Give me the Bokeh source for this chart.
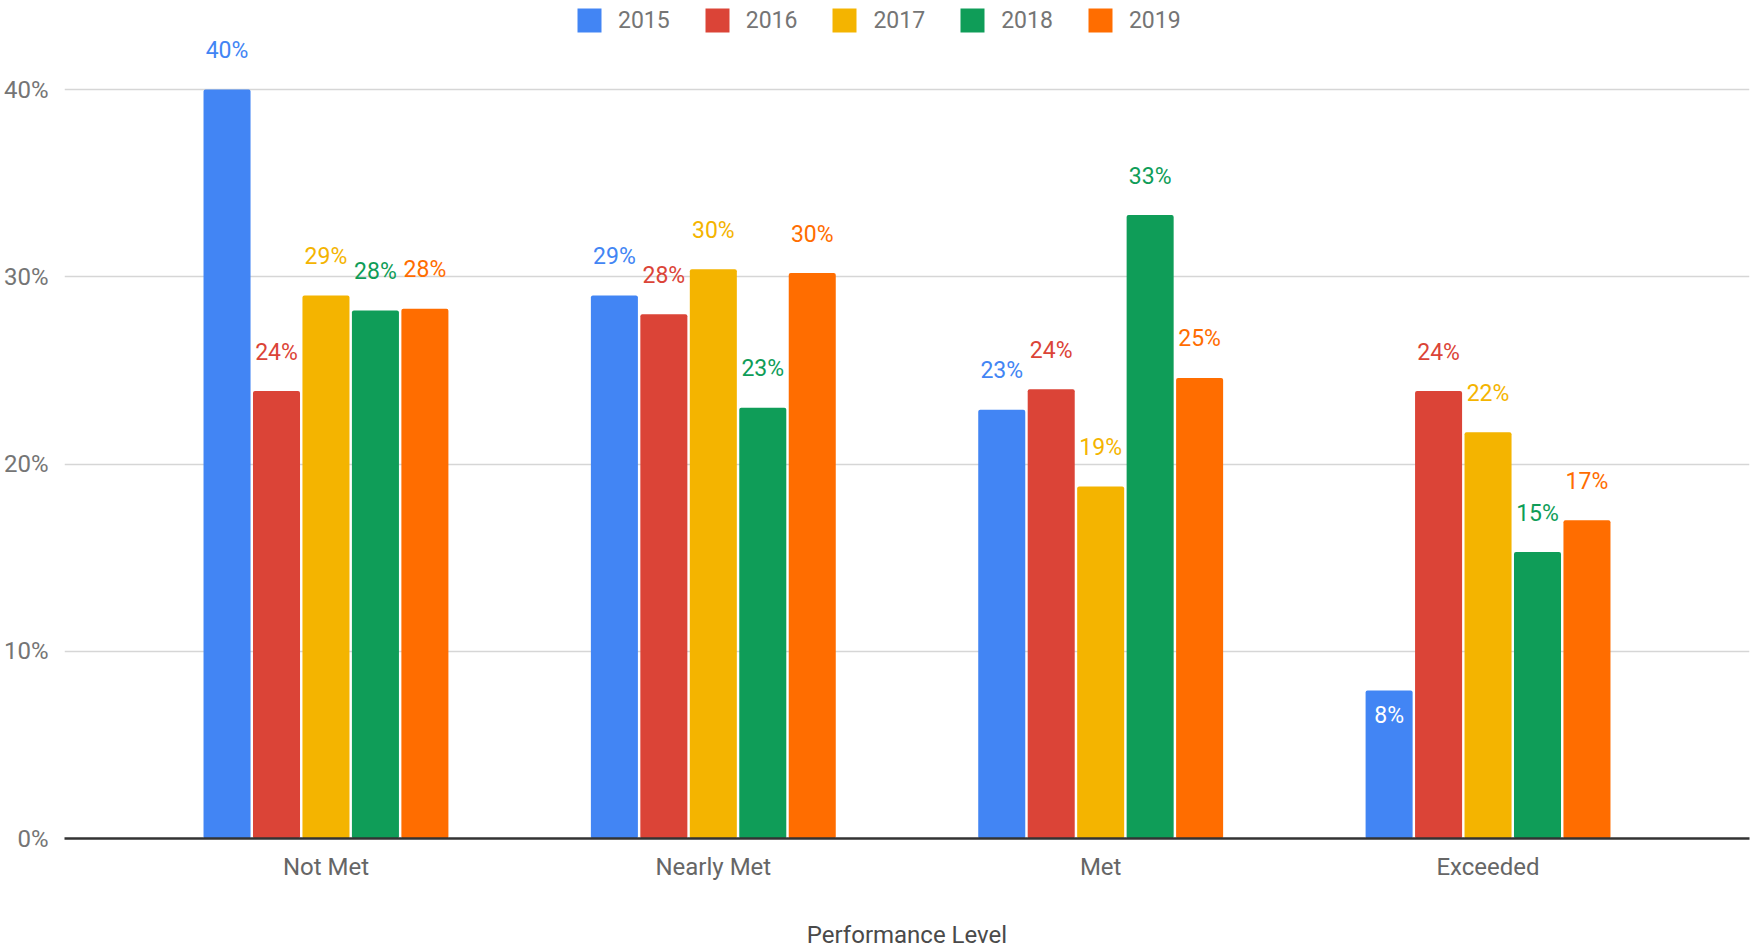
from bokeh.plotting import figure
from bokeh.models import (ColumnDataSource, FactorRange, Legend, LegendItem,
                          FixedTicker, PrintfTickFormatter, Range1d)
from bokeh.transform import dodge
from bokeh.core.properties import value
from bokeh.embed import file_html
from bokeh.resources import INLINE

# ---- data ----
categories = ["Not Met", "Nearly Met", "Met", "Exceeded"]
years = ["2015", "2016", "2017", "2018", "2019"]
v2015 = [40.0, 29.0, 22.9, 7.9]
v2016 = [23.9, 28.0, 24.0, 23.9]
v2017 = [29.0, 30.4, 18.8, 21.7]
v2018 = [28.2, 23.0, 33.3, 15.3]
v2019 = [28.3, 30.2, 24.6, 17.0]
series = [v2015, v2016, v2017, v2018, v2019]
y_ticks = [0, 10, 20, 30, 40]
x_axis_title = "Performance Level"

colors = ["#4285F4", "#DB4437", "#F4B400", "#0F9D58", "#FF6D00"]
offsets = [-0.2554, -0.1277, 0.0, 0.1277, 0.2554]
bar_w = 0.1214
FONT = "Roboto"

p = figure(
    x_range=FactorRange(*categories, range_padding=0.175, range_padding_units="absolute"),
    y_range=Range1d(0, 44.33),
    frame_width=1685, frame_height=830,
    min_border_left=64, min_border_right=5, min_border_top=8, min_border_bottom=0,
    output_backend="svg", toolbar_location=None,
)
p.outline_line_color = None
p.background_fill_color = "white"
p.border_fill_color = "white"

# grid
p.xgrid.grid_line_color = None
p.ygrid.grid_line_color = "#d6d6d6"
p.ygrid.grid_line_width = 1.5

# y axis
p.yaxis.ticker = FixedTicker(ticks=y_ticks)
p.yaxis.formatter = PrintfTickFormatter(format="%d%%")
p.yaxis.axis_line_color = None
p.yaxis.major_tick_line_color = None
p.yaxis.minor_tick_line_color = None
p.yaxis.major_label_text_font = FONT
p.yaxis.major_label_text_font_size = "24px"
p.yaxis.major_label_text_color = "#757575"
p.yaxis.major_label_standoff = 10

# x axis
p.xaxis.axis_line_color = "#333333"
p.xaxis.axis_line_width = 2.5
p.xaxis.major_tick_line_color = None
p.xaxis.minor_tick_line_color = None
p.xaxis.major_label_text_font = FONT
p.xaxis.major_label_text_font_size = "24px"
p.xaxis.major_label_text_color = "#666666"
p.xaxis.major_label_standoff = 8
p.xaxis.axis_label = x_axis_title
p.xaxis.axis_label_text_font = FONT
p.xaxis.axis_label_text_font_size = "24px"
p.xaxis.axis_label_text_font_style = "normal"
p.xaxis.axis_label_text_color = "#4a4a4a"
p.xaxis.axis_label_standoff = 37

items = []
for yr, vals, col, off in zip(years, series, colors, offsets):
    labels = [f"{round(v)}%" for v in vals]
    src = ColumnDataSource(dict(cat=categories, val=vals, label=labels))
    r = p.vbar(x=dodge("cat", off, range=p.x_range), top="val", width=bar_w,
               source=src, fill_color=col, line_color=None, border_radius=2)
    items.append(LegendItem(label=yr, renderers=[r]))

    out_idx = [i for i, v in enumerate(vals) if v >= 10]
    in_idx = [i for i, v in enumerate(vals) if v < 10]
    src_out = ColumnDataSource(dict(cat=[categories[i] for i in out_idx],
                                    val=[vals[i] for i in out_idx],
                                    label=[labels[i] for i in out_idx]))
    src_in = ColumnDataSource(dict(cat=[categories[i] for i in in_idx],
                                   val=[vals[i] for i in in_idx],
                                   label=[labels[i] for i in in_idx]))
    p.text(x=dodge("cat", off, range=p.x_range), y="val", text="label", source=src_out,
           text_align="center", text_baseline="middle", y_offset=-39,
           text_font=value(FONT), text_font_size="23px", text_color=col)
    p.text(x=dodge("cat", off, range=p.x_range), y="val", text="label", source=src_in,
           text_align="center", text_baseline="middle", y_offset=25,
           text_font=value(FONT), text_font_size="23px", text_color="white")

legend = Legend(items=items, orientation="horizontal", location=(510, 803),
                border_line_color=None, background_fill_alpha=0,
                padding=0, margin=0, glyph_width=30, glyph_height=30,
                label_standoff=14, spacing=32,
                label_text_font=FONT, label_text_font_size="23px",
                label_text_color="#757575")
p.add_layout(legend)

open("out.html", "w").write(file_html(p, INLINE))
